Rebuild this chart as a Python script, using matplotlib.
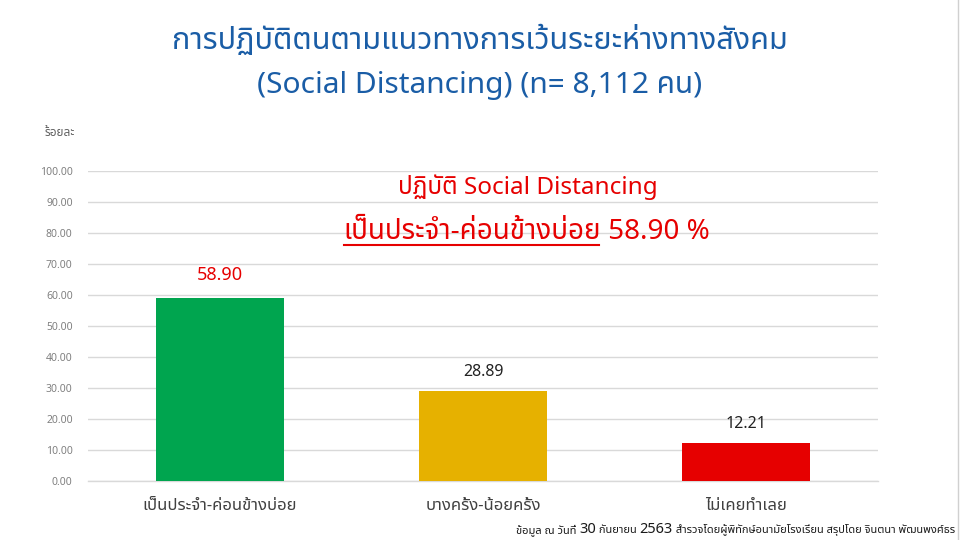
import matplotlib
matplotlib.use('Agg')
import matplotlib.pyplot as plt
from matplotlib.lines import Line2D

# ---- data ----
categories = ["เป็นประจำ-ค่อนข้างบ่อย", "บางครั้ง-น้อยครั้ง", "ไม่เคยทำเลย"]
values = [58.90, 28.89, 12.21]
value_labels = ["58.90", "28.89", "12.21"]
yticks = [0, 10, 20, 30, 40, 50, 60, 70, 80, 90, 100]
title_line1 = "การปฏิบัติตนตามแนวทางการเว้นระยะห่างทางสังคม"
title_line2 = "(Social Distancing) (n= 8,112 คน)"
note_line1 = "ปฏิบัติ Social Distancing"
note_line2a = "เป็นประจำ-ค่อนข้างบ่อย"
note_line2b = " 58.90 %"
ylabel = "ร้อยละ"
footer_parts = [("ข้อมูล ณ วันที่ ", 8), ("30", 10.5), (" กันยายน ", 8), ("2563", 10.5),
                (" สำรวจโดยผู้พิทักษ์อนามัยโรงเรียน สรุปโดย จินตนา พัฒนพงศ์ธร", 8)]

bar_colors = ["#00A54F", "#E6B100", "#E60000"]
label_colors = ["#E60000", "#222222", "#222222"]

FAM = ['Noto Sans Thai', 'Noto Sans', 'DejaVu Sans']
plt.rcParams['font.family'] = FAM

fig = plt.figure(figsize=(9.6, 5.4), dpi=100)
ax = fig.add_axes([88/960, 1-481/540, 790/960, 310/540])

x = list(range(len(categories)))
ax.bar(x, values, width=0.485, color=bar_colors, zorder=3)
ax.set_xlim(-0.5, len(categories) - 0.5)
ax.set_ylim(0, 100)
ax.set_yticks(yticks)
ax.set_yticklabels([f"{v:.2f}" for v in yticks], fontsize=7.5, color="#808080")
ax.set_xticks(x)
ax.set_xticklabels(categories, fontsize=12, color="#404040")
ax.tick_params(axis='y', length=0, pad=11)
ax.tick_params(axis='x', length=0, pad=12)
ax.grid(axis='y', color="#D9D9D9", linewidth=1.0, zorder=0)
for s in ['top', 'right', 'left']:
    ax.spines[s].set_visible(False)
ax.spines['bottom'].set_color("#D9D9D9")
ax.spines['bottom'].set_linewidth(1.0)

for xi, v, lab, c in zip(x, values, value_labels, label_colors):
    red_lab = c != "#222222"
    ax.annotate(lab, (xi, v), xytext=(0, 16.5 if red_lab else 14), textcoords='offset points',
                ha='center', va='center', fontsize=13 if red_lab else 11.5, color=c)

# title
tc = "#1A5DA6"
fig.text(0.5, 1-40/540, title_line1, ha='center', va='center', fontsize=22, color=tc)
fig.text(0.5, 1-85/540, title_line2, ha='center', va='center', fontsize=21.5, color=tc)

# y label
fig.text(60/960, 1-133/540, ylabel, ha='center', va='center', fontsize=8.5, color="#606060", fontweight='bold')

# red note
red = "#E60000"
fig.text(528/960, 1-187/540, note_line1, ha='center', va='center', fontsize=17.5, color=red)

fig.canvas.draw()
r = fig.canvas.get_renderer()
ta = fig.text(0, 1-232/540, note_line2a, ha='left', va='center', fontsize=20, color=red)
tb = fig.text(0, 1-232/540, note_line2b, ha='left', va='center', fontsize=20, color=red)
wa = ta.get_window_extent(r).width
wb = tb.get_window_extent(r).width
start = 527 - (wa + wb) / 2
ta.set_x(start / 960)
tb.set_x((start + wa) / 960)
uy = 1 - 245/540
fig.add_artist(Line2D([start/960, (start + wa - 2)/960], [uy, uy], color=red, linewidth=1.5,
                      transform=fig.transFigure))

# footer (right aligned at x=955)
texts = []
for s, fs in footer_parts:
    t = fig.text(0, 1-533/540, s, ha='left', va='baseline', fontsize=fs, color="#1a1a1a")
    texts.append(t)
widths = [t.get_window_extent(r).width for t in texts]
xpos = 955 - sum(widths)
for t, w in zip(texts, widths):
    t.set_x(xpos / 960)
    xpos += w

# slide border line on right
fig.add_artist(Line2D([958/960, 958/960], [0, 1], color="#D0D0D0", linewidth=1, transform=fig.transFigure))

fig.savefig('out.png', dpi=100)
